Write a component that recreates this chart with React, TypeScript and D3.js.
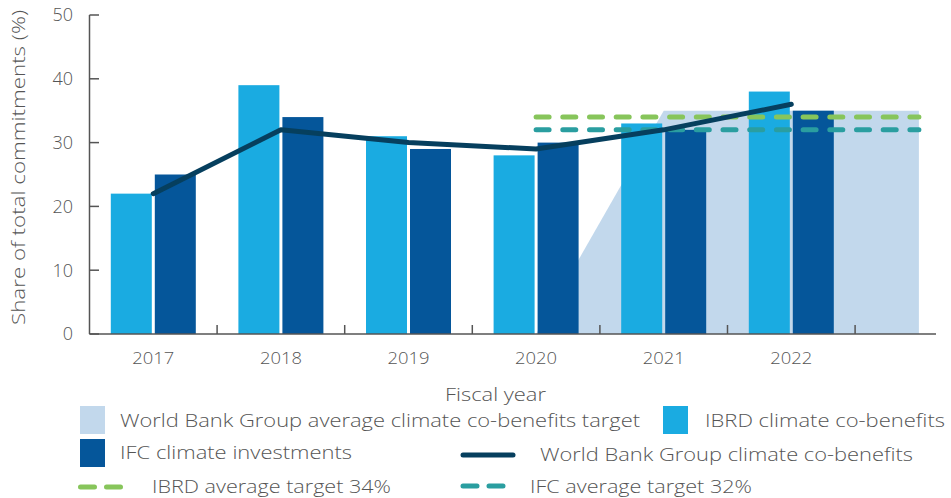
import React from "react";
import * as d3 from "d3";

const years = ["2017", "2018", "2019", "2020", "2021", "2022", "2023"];
const barYears = ["2017", "2018", "2019", "2020", "2021", "2022"];
const ibrdValues = [22, 39, 31, 28, 33, 38];
const ifcValues = [25, 34, 29, 30, 32, 35];
const wbgValues = [22, 32, 30, 29, 32, 36];
const targetYears = ["2020", "2021", "2022", "2023"];
const targetValues = [0, 35, 35, 35];
const ibrdTargetYears = ["2020", "2023"];
const ibrdTarget = 34;
const ifcTarget = 32;
const yTicks = [0, 10, 20, 30, 40, 50];

const W = 951;
const H = 498;
const FONT = "'Open Sans', Lato, sans-serif";
const TXT = "#555";
const C_LIGHT = "#1aabe1";
const C_DARK = "#05569a";
const C_LINE = "#063f5e";
const C_AREA = "#c2d8ec";
const C_GREEN = "#87c55b";
const C_TEAL = "#2a9ea0";

export default function App() {
  const x = d3.scaleBand<string>().domain(years).range([89.5, 89.5 + 7 * 127.6]).padding(0);
  const y = d3.scaleLinear().domain([0, 50]).range([334, 15]);
  const cx = (d: string) => (x(d) as number) + x.bandwidth() / 2;
  const barW = 41;
  const gap = 1.5;

  const area = d3
    .area<number>()
    .x((_, i) => cx(targetYears[i]))
    .y0(y(0))
    .y1((d) => y(d));
  const line = d3
    .line<number>()
    .x((_, i) => cx(barYears[i]))
    .y((d) => y(d));

  const boundaries = years.slice(1).map((d) => x(d) as number).filter((v) => v < 936);
  const lt = { fontSize: 19, fill: TXT, fontWeight: 300, lengthAdjust: "spacingAndGlyphs" as const };

  return (
    <svg width={W} height={H} style={{ position: "absolute", left: 0, top: 0 }} fontFamily={FONT}>
      <rect width={W} height={H} fill="#fff" />
      <path d={area(targetValues) || ""} fill={C_AREA} />
      {barYears.map((yr, i) => (
        <g key={yr}>
          <rect x={cx(yr) - gap - barW} y={y(ibrdValues[i])} width={barW} height={y(0) - y(ibrdValues[i])} fill={C_LIGHT} />
          <rect x={cx(yr) + gap} y={y(ifcValues[i])} width={barW} height={y(0) - y(ifcValues[i])} fill={C_DARK} />
        </g>
      ))}
      <line x1={cx(ibrdTargetYears[0])} x2={cx(ibrdTargetYears[1])} y1={y(ibrdTarget)} y2={y(ibrdTarget)} stroke={C_GREEN} strokeWidth={5} strokeLinecap="round" strokeDasharray="13 13.7" />
      <line x1={cx(ibrdTargetYears[0])} x2={cx(ibrdTargetYears[1])} y1={y(ifcTarget)} y2={y(ifcTarget)} stroke={C_TEAL} strokeWidth={5} strokeLinecap="round" strokeDasharray="13 13.7" />
      <path d={line(wbgValues) || ""} fill="none" stroke={C_LINE} strokeWidth={5} strokeLinecap="round" strokeLinejoin="round" />
      <line x1={89.5} x2={89.5} y1={y(50)} y2={y(0)} stroke="#555" strokeWidth={1.5} />
      <line x1={89.5} x2={936} y1={y(0)} y2={y(0)} stroke="#555" strokeWidth={1.5} />
      {yTicks.map((t) => (
        <g key={t}>
          <line x1={89.5} x2={99} y1={y(t)} y2={y(t)} stroke="#555" strokeWidth={1.5} />
          <text x={73} y={y(t)} dy="0.36em" textAnchor="end" fontSize={18} fill={TXT} fontWeight={300}>
            {t}
          </text>
        </g>
      ))}
      {boundaries.map((b, i) => (
        <line key={i} x1={b} x2={b} y1={y(0)} y2={y(0) - 9} stroke="#555" strokeWidth={1.5} />
      ))}
      {barYears.map((yr) => (
        <text key={yr} x={cx(yr)} y={358} dy="0.36em" textAnchor="middle" fontSize={17} fill={TXT} fontWeight={300} textLength={42} lengthAdjust="spacingAndGlyphs">
          {yr}
        </text>
      ))}
      <text x={445} y={394} dy="0.36em" {...lt} textLength={101}>
        Fiscal year
      </text>
      <text transform={`translate(18,325) rotate(-90)`} dy="0.36em" {...lt} textLength={315}>
        Share of total commitments (%)
      </text>
      <rect x={80} y={406} width={25} height={28} fill={C_AREA} />
      <text x={120} y={420} dy="0.36em" {...lt} textLength={520}>
        World Bank Group average climate co-benefits target
      </text>
      <rect x={663} y={406} width={25} height={28} fill={C_LIGHT} />
      <text x={705} y={420} dy="0.36em" {...lt} textLength={240}>
        IBRD climate co-benefits
      </text>
      <rect x={80} y={439} width={25} height={28} fill={C_DARK} />
      <text x={120} y={452} dy="0.36em" {...lt} textLength={232}>
        IFC climate investments
      </text>
      <line x1={463} x2={513} y1={455} y2={455} stroke={C_LINE} strokeWidth={5} strokeLinecap="round" />
      <text x={540} y={454} dy="0.36em" {...lt} textLength={373}>
        World Bank Group climate co-benefits
      </text>
      <line x1={80.5} x2={120.5} y1={487} y2={487} stroke={C_GREEN} strokeWidth={5} strokeLinecap="round" strokeDasharray="14 12" />
      <text x={152} y={486} dy="0.36em" {...lt} textLength={239}>
        IBRD average target 34%
      </text>
      <line x1={463} x2={503} y1={486} y2={486} stroke={C_TEAL} strokeWidth={5} strokeLinecap="round" strokeDasharray="14 12" />
      <text x={530} y={486} dy="0.36em" {...lt} textLength={222}>
        IFC average target 32%
      </text>
    </svg>
  );
}
